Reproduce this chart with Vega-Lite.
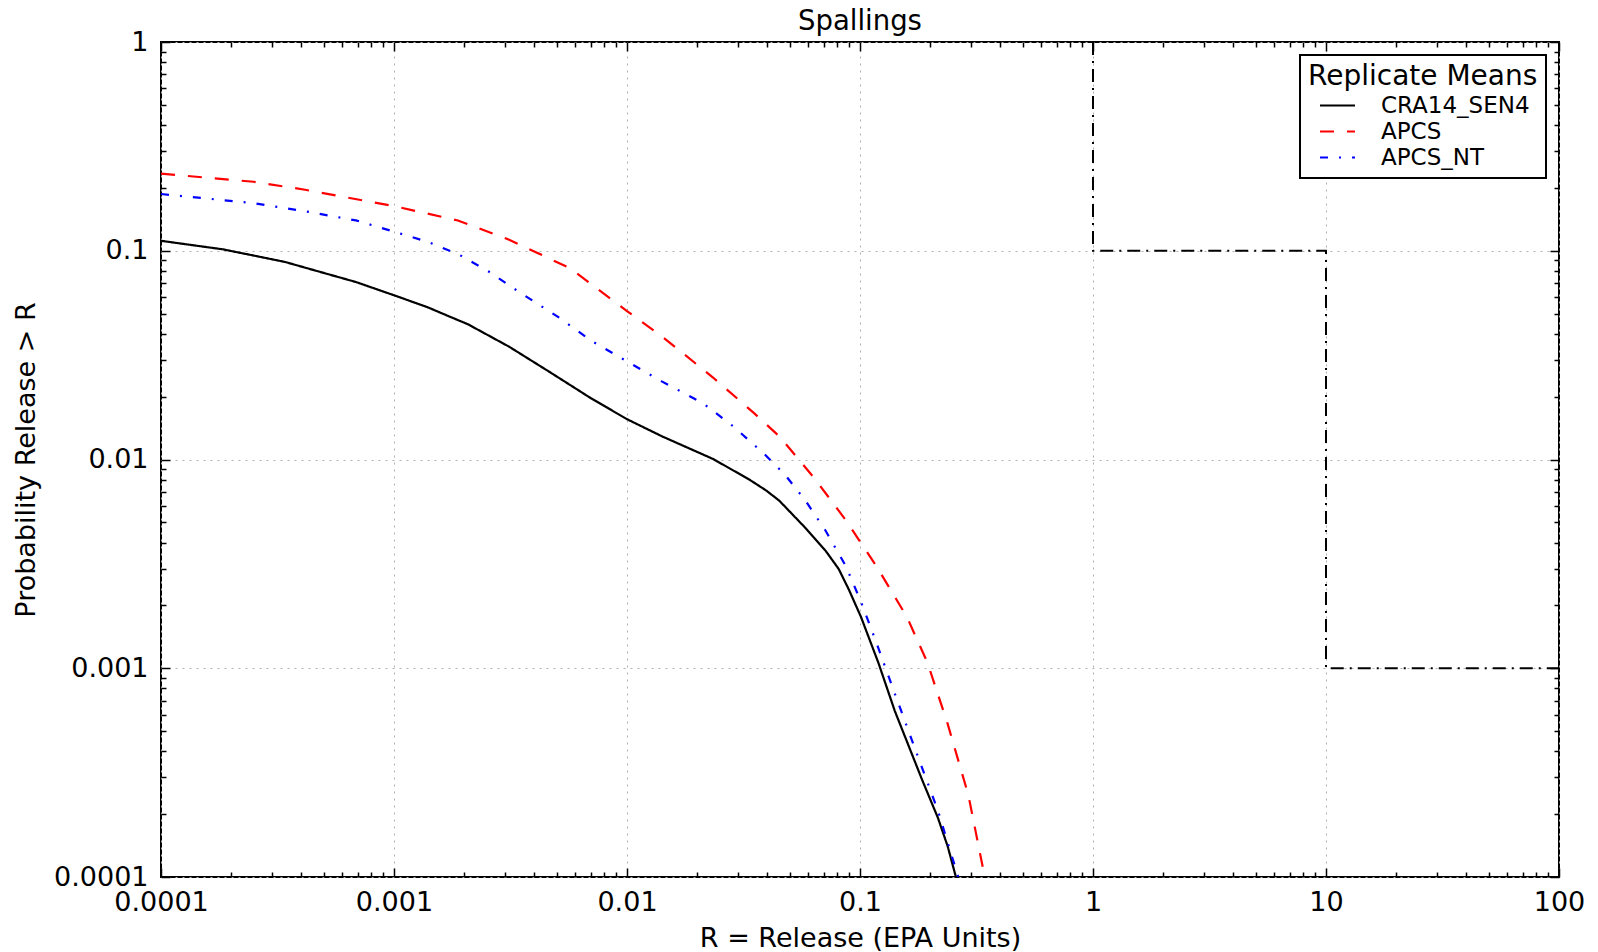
{
  "$schema": "https://vega.github.io/schema/vega-lite/v6.json",
  "autosize": "none",
  "width": 1398,
  "height": 835,
  "padding": {"left": 161, "top": 42, "right": 39, "bottom": 75},
  "background": "white",
  "config": {
    "font": "DejaVu Sans",
    "view": {"stroke": "black", "strokeWidth": 2},
    "axis": {
      "domain": false,
      "labelFont": "DejaVu Sans",
      "labelFontSize": 27,
      "labelColor": "black",
      "titleFont": "DejaVu Sans",
      "titleFontSize": 27,
      "titleFontWeight": "normal",
      "titleColor": "black",
      "tickColor": "black",
      "tickWidth": 1.5,
      "gridColor": "#b0b0b0",
      "gridDash": [2, 5],
      "gridWidth": 1,
      "labelFlush": false,
      "labelOverlap": false
    },
    "legend": {
      "orient": "top-right",
      "offset": 13,
      "strokeColor": "black",
      "strokeWidth": 2,
      "fillColor": "white",
      "padding": 8,
      "titleFont": "DejaVu Sans",
      "titleFontSize": 28,
      "titleFontWeight": "normal",
      "titleColor": "black",
      "titleLimit": 600,
      "labelLimit": 600,
      "labelFont": "DejaVu Sans",
      "labelFontSize": 23,
      "labelColor": "black",
      "symbolType": "M-1.4,0H1.4",
      "symbolSize": 625,
      "symbolStrokeWidth": 2,
      "symbolOffset": 16,
      "labelOffset": 30,
      "rowPadding": 0,
      "titlePadding": 1
    }
  },
  "title": {"text": "Spallings", "fontSize": 27.5, "fontWeight": "normal", "color": "black", "font": "DejaVu Sans", "offset": -7},
  "datasets": {
    "limit": [
      {"i": 0, "r": 1, "p": 1},
      {"i": 1, "r": 1, "p": 0.1},
      {"i": 2, "r": 10, "p": 0.1},
      {"i": 3, "r": 10, "p": 0.001},
      {"i": 4, "r": 100, "p": 0.001}
    ],
    "series": [
      {"series": "CRA14_SEN4", "r": 0.0001, "p": 0.1116},
      {"series": "CRA14_SEN4", "r": 0.000185, "p": 0.1015},
      {"series": "CRA14_SEN4", "r": 0.000339, "p": 0.0885},
      {"series": "CRA14_SEN4", "r": 0.000687, "p": 0.0708},
      {"series": "CRA14_SEN4", "r": 0.001, "p": 0.0612},
      {"series": "CRA14_SEN4", "r": 0.00139, "p": 0.0537},
      {"series": "CRA14_SEN4", "r": 0.0017, "p": 0.0488},
      {"series": "CRA14_SEN4", "r": 0.00208, "p": 0.0444},
      {"series": "CRA14_SEN4", "r": 0.00312, "p": 0.0347},
      {"series": "CRA14_SEN4", "r": 0.00467, "p": 0.0262},
      {"series": "CRA14_SEN4", "r": 0.00698, "p": 0.0197},
      {"series": "CRA14_SEN4", "r": 0.01, "p": 0.0156},
      {"series": "CRA14_SEN4", "r": 0.01416, "p": 0.0129},
      {"series": "CRA14_SEN4", "r": 0.02344, "p": 0.01005},
      {"series": "CRA14_SEN4", "r": 0.0334, "p": 0.00803},
      {"series": "CRA14_SEN4", "r": 0.0396, "p": 0.0071},
      {"series": "CRA14_SEN4", "r": 0.0451, "p": 0.00634},
      {"series": "CRA14_SEN4", "r": 0.058, "p": 0.00473},
      {"series": "CRA14_SEN4", "r": 0.0711, "p": 0.00366},
      {"series": "CRA14_SEN4", "r": 0.081, "p": 0.00299},
      {"series": "CRA14_SEN4", "r": 0.0896, "p": 0.00238},
      {"series": "CRA14_SEN4", "r": 0.101, "p": 0.00176},
      {"series": "CRA14_SEN4", "r": 0.12, "p": 0.00106},
      {"series": "CRA14_SEN4", "r": 0.141, "p": 0.000625},
      {"series": "CRA14_SEN4", "r": 0.185, "p": 0.000291},
      {"series": "CRA14_SEN4", "r": 0.216, "p": 0.000192},
      {"series": "CRA14_SEN4", "r": 0.238, "p": 0.00014},
      {"series": "CRA14_SEN4", "r": 0.258, "p": 0.0001},
      {"series": "APCS", "r": 0.0001, "p": 0.234},
      {"series": "APCS", "r": 0.00025, "p": 0.214},
      {"series": "APCS", "r": 0.000415, "p": 0.196},
      {"series": "APCS", "r": 0.001, "p": 0.1636},
      {"series": "APCS", "r": 0.00188, "p": 0.1397},
      {"series": "APCS", "r": 0.00312, "p": 0.113},
      {"series": "APCS", "r": 0.0057, "p": 0.0824},
      {"series": "APCS", "r": 0.01, "p": 0.0514},
      {"series": "APCS", "r": 0.01416, "p": 0.0388},
      {"series": "APCS", "r": 0.0234, "p": 0.0247},
      {"series": "APCS", "r": 0.0351, "p": 0.01668},
      {"series": "APCS", "r": 0.0451, "p": 0.0129},
      {"series": "APCS", "r": 0.0643, "p": 0.00803},
      {"series": "APCS", "r": 0.0869, "p": 0.00512},
      {"series": "APCS", "r": 0.1175, "p": 0.00309},
      {"series": "APCS", "r": 0.159, "p": 0.00176},
      {"series": "APCS", "r": 0.195, "p": 0.00106},
      {"series": "APCS", "r": 0.238, "p": 0.00054},
      {"series": "APCS", "r": 0.292, "p": 0.000246},
      {"series": "APCS", "r": 0.343, "p": 0.0001},
      {"series": "APCS_NT", "r": 0.0001, "p": 0.187},
      {"series": "APCS_NT", "r": 0.00025, "p": 0.169},
      {"series": "APCS_NT", "r": 0.000415, "p": 0.1546},
      {"series": "APCS_NT", "r": 0.000687, "p": 0.1397},
      {"series": "APCS_NT", "r": 0.001, "p": 0.1235},
      {"series": "APCS_NT", "r": 0.00139, "p": 0.1105},
      {"series": "APCS_NT", "r": 0.00188, "p": 0.0965},
      {"series": "APCS_NT", "r": 0.00255, "p": 0.0795},
      {"series": "APCS_NT", "r": 0.00344, "p": 0.0635},
      {"series": "APCS_NT", "r": 0.00516, "p": 0.0475},
      {"series": "APCS_NT", "r": 0.00698, "p": 0.0372},
      {"series": "APCS_NT", "r": 0.01, "p": 0.0295},
      {"series": "APCS_NT", "r": 0.01416, "p": 0.0236},
      {"series": "APCS_NT", "r": 0.0212, "p": 0.0186},
      {"series": "APCS_NT", "r": 0.0286, "p": 0.0144},
      {"series": "APCS_NT", "r": 0.0388, "p": 0.01064},
      {"series": "APCS_NT", "r": 0.0475, "p": 0.00849},
      {"series": "APCS_NT", "r": 0.058, "p": 0.00641},
      {"series": "APCS_NT", "r": 0.0711, "p": 0.00457},
      {"series": "APCS_NT", "r": 0.0869, "p": 0.00309},
      {"series": "APCS_NT", "r": 0.101, "p": 0.00208},
      {"series": "APCS_NT", "r": 0.1175, "p": 0.00133},
      {"series": "APCS_NT", "r": 0.141, "p": 0.000757},
      {"series": "APCS_NT", "r": 0.176, "p": 0.000386},
      {"series": "APCS_NT", "r": 0.216, "p": 0.000208},
      {"series": "APCS_NT", "r": 0.264, "p": 0.0001}
    ]
  },
  "layer": [
    {
      "layer": [
        {
          "data": {"name": "limit"},
          "mark": {"type": "line", "color": "black", "strokeWidth": 2, "strokeDash": [13, 6, 2, 6], "clip": true},
          "encoding": {
            "x": {
              "field": "r", "type": "quantitative",
              "scale": {"type": "log", "domain": [0.0001, 100], "nice": false},
              "axis": {
                "title": "R = Release (EPA Units)",
                "values": [0.0001, 0.0002, 0.0003, 0.0004, 0.0005, 0.0006, 0.0007, 0.0008, 0.0009, 0.001, 0.002, 0.003, 0.004, 0.005, 0.006, 0.007, 0.008, 0.009, 0.01, 0.02, 0.03, 0.04, 0.05, 0.06, 0.07, 0.08, 0.09, 0.1, 0.2, 0.3, 0.4, 0.5, 0.6, 0.7, 0.8, 0.9, 1, 2, 3, 4, 5, 6, 7, 8, 9, 10, 20, 30, 40, 50, 60, 70, 80, 90, 100],
                "labelExpr": "abs(log(datum.value)/LN10 - round(log(datum.value)/LN10)) < 0.000001 ? toString(datum.value) : ''",
                "tickSize": {"condition": {"test": "abs(log(datum.value)/LN10 - round(log(datum.value)/LN10)) < 0.000001", "value": -9}, "value": -5},
                "gridOpacity": {"condition": {"test": "abs(log(datum.value)/LN10 - round(log(datum.value)/LN10)) < 0.000001", "value": 1}, "value": 0},
                "labelPadding": 21,
                "titleY": 69,
                "titleBaseline": "alphabetic"
              }
            },
            "y": {
              "field": "p", "type": "quantitative",
              "scale": {"type": "log", "domain": [0.0001, 1], "nice": false},
              "axis": {
                "title": "Probability Release > R",
                "values": [0.0001, 0.0002, 0.0003, 0.0004, 0.0005, 0.0006, 0.0007, 0.0008, 0.0009, 0.001, 0.002, 0.003, 0.004, 0.005, 0.006, 0.007, 0.008, 0.009, 0.01, 0.02, 0.03, 0.04, 0.05, 0.06, 0.07, 0.08, 0.09, 0.1, 0.2, 0.3, 0.4, 0.5, 0.6, 0.7, 0.8, 0.9, 1],
                "labelExpr": "abs(log(datum.value)/LN10 - round(log(datum.value)/LN10)) < 0.000001 ? toString(datum.value) : ''",
                "tickSize": {"condition": {"test": "abs(log(datum.value)/LN10 - round(log(datum.value)/LN10)) < 0.000001", "value": -9}, "value": -5},
                "gridOpacity": {"condition": {"test": "abs(log(datum.value)/LN10 - round(log(datum.value)/LN10)) < 0.000001", "value": 1}, "value": 0},
                "labelPadding": 22,
                "titleX": -127,
                "titleY": 417.5,
                "titleBaseline": "alphabetic",
                "titleAngle": -90,
                "titleAlign": "center"
              }
            },
            "order": {"field": "i", "type": "quantitative"}
          }
        },
        {
          "data": {"name": "series"},
          "mark": {"type": "line", "strokeWidth": 2.2, "clip": true},
          "encoding": {
            "x": {"field": "r", "type": "quantitative"},
            "y": {"field": "p", "type": "quantitative"},
            "color": {
              "field": "series", "type": "nominal",
              "scale": {"domain": ["CRA14_SEN4", "APCS", "APCS_NT"], "range": ["black", "red", "blue"]},
              "legend": {"title": "Replicate Means"}
            },
            "strokeDash": {
              "field": "series", "type": "nominal",
              "scale": {"domain": ["CRA14_SEN4", "APCS", "APCS_NT"], "range": [[1, 0], [14, 13], [8, 11, 2, 11]]},
              "legend": {"title": "Replicate Means"}
            }
          }
        }
      ]
    },
    {
      "data": {"name": "limit"},
      "mark": {"type": "point", "opacity": 0},
      "encoding": {
        "x": {
          "field": "r", "type": "quantitative",
          "axis": {
            "title": null, "labels": false, "grid": false,
            "values": [0.0001, 0.0002, 0.0003, 0.0004, 0.0005, 0.0006, 0.0007, 0.0008, 0.0009, 0.001, 0.002, 0.003, 0.004, 0.005, 0.006, 0.007, 0.008, 0.009, 0.01, 0.02, 0.03, 0.04, 0.05, 0.06, 0.07, 0.08, 0.09, 0.1, 0.2, 0.3, 0.4, 0.5, 0.6, 0.7, 0.8, 0.9, 1, 2, 3, 4, 5, 6, 7, 8, 9, 10, 20, 30, 40, 50, 60, 70, 80, 90, 100],
            "tickSize": {"condition": {"test": "abs(log(datum.value)/LN10 - round(log(datum.value)/LN10)) < 0.000001", "value": -9}, "value": -5}
          }
        },
        "y": {
          "field": "p", "type": "quantitative",
          "axis": {
            "title": null, "labels": false, "grid": false,
            "values": [0.0001, 0.0002, 0.0003, 0.0004, 0.0005, 0.0006, 0.0007, 0.0008, 0.0009, 0.001, 0.002, 0.003, 0.004, 0.005, 0.006, 0.007, 0.008, 0.009, 0.01, 0.02, 0.03, 0.04, 0.05, 0.06, 0.07, 0.08, 0.09, 0.1, 0.2, 0.3, 0.4, 0.5, 0.6, 0.7, 0.8, 0.9, 1],
            "tickSize": {"condition": {"test": "abs(log(datum.value)/LN10 - round(log(datum.value)/LN10)) < 0.000001", "value": -9}, "value": -5}
          }
        }
      }
    }
  ],
  "resolve": {"axis": {"x": "independent", "y": "independent"}}
}
